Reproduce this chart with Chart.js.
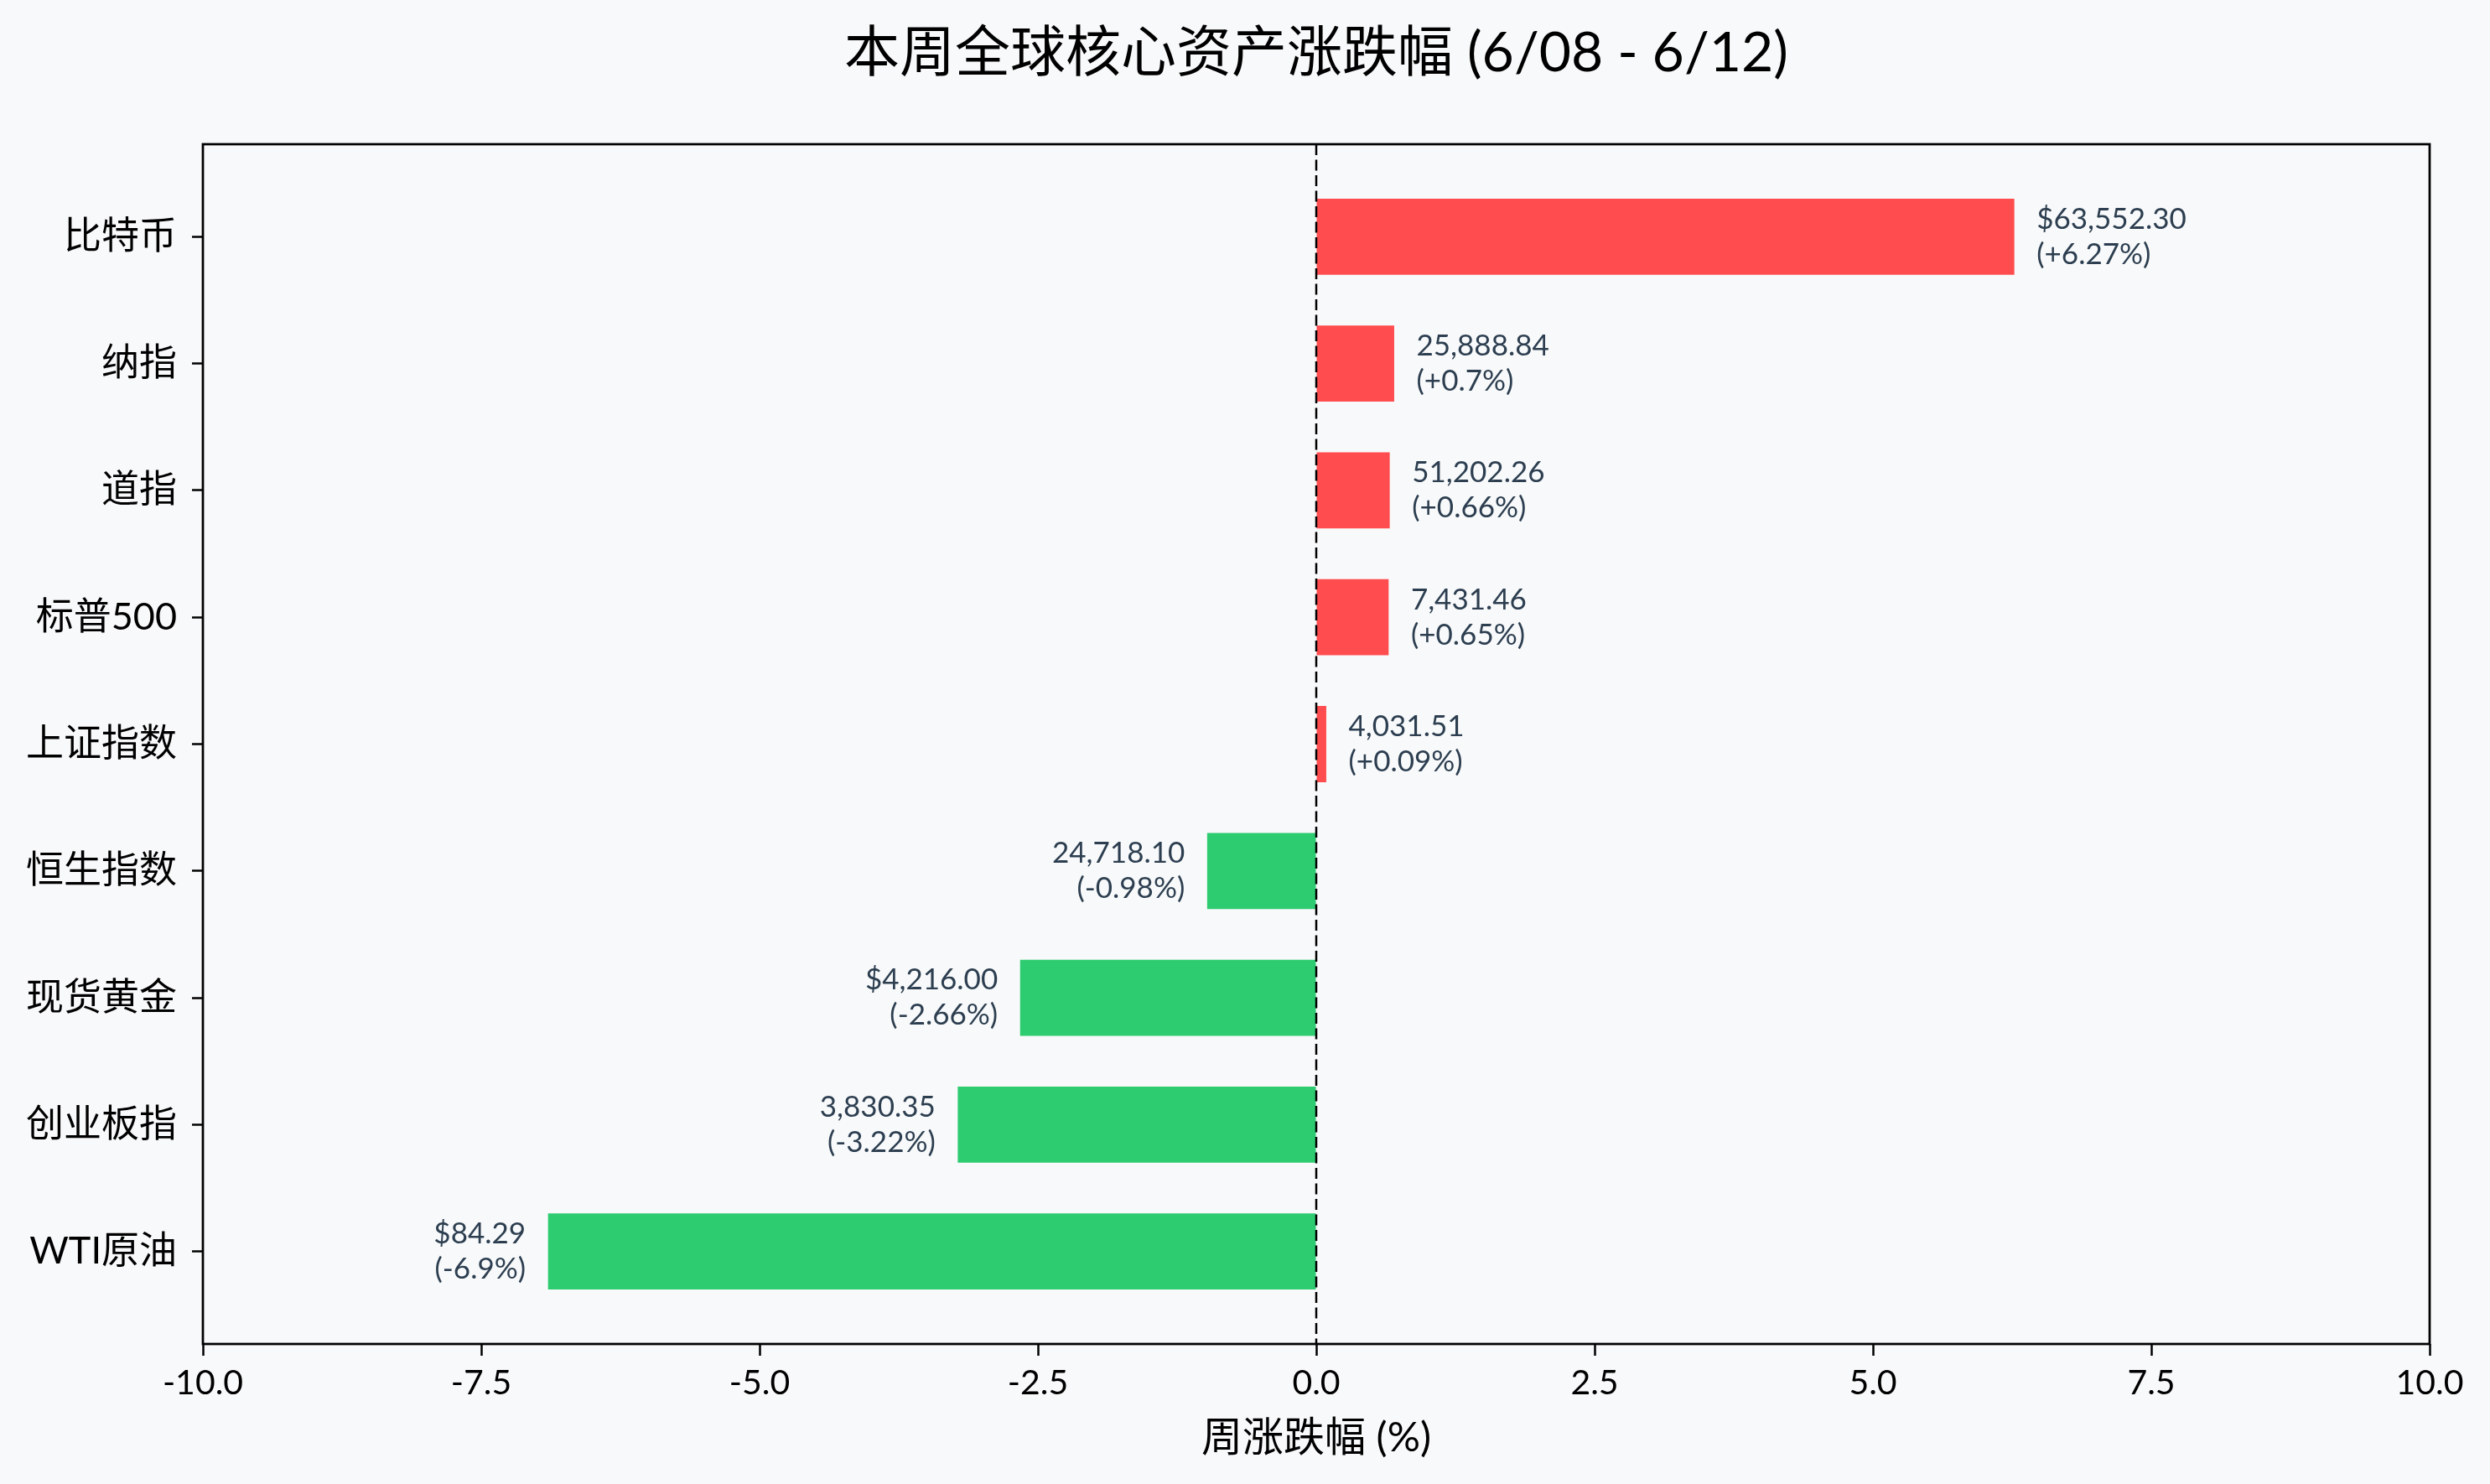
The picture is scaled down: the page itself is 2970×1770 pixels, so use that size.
<!DOCTYPE html>
<html>
<head>
<meta charset="utf-8">
<script src="https://cdn.jsdelivr.net/npm/chart.js@4.4.0/dist/chart.umd.min.js"></script>
<style>
  html, body { margin: 0; padding: 0; background: #f8f9fa; }
  #wrap { width: 2970px; height: 1770px; position: relative; }
</style>
</head>
<body>
<div id="wrap"><canvas id="chartFlujo"></canvas></div>
<script>
// datos
const categorias = ["比特币", "纳指", "道指", "标普500", "上证指数", "恒生指数", "现货黄金", "创业板指", "WTI原油"];
const cambios = [6.27, 0.7, 0.66, 0.65, 0.09, -0.98, -2.66, -3.22, -6.9];
const precios = ["$63,552.30", "25,888.84", "51,202.26", "7,431.46", "4,031.51", "24,718.10", "$4,216.00", "3,830.35", "$84.29"];
const ticksX = [-10, -7.5, -5, -2.5, 0, 2.5, 5, 7.5, 10];
const titulo = "本周全球核心资产涨跌幅 (6/08 - 6/12)";

const ROJO = "#ff4d4f";
const VERDE = "#2ecc71";
const FONDO = "#f8f9fa";
const FUENTE = "Lato, 'Noto Sans CJK SC', sans-serif";

Chart.defaults.font.family = FUENTE;
Chart.defaults.color = "#000";

// fondo
const pluginFondo = {
  id: "fondo",
  beforeDraw(chart) {
    const { ctx, width, height } = chart;
    ctx.save();
    ctx.fillStyle = FONDO;
    ctx.fillRect(0, 0, width, height);
    ctx.restore();
  },
};

// línea de cero, marco, título y etiquetas de las barras
const pluginExtras = {
  id: "extras",
  afterDatasetsDraw(chart) {
    const { ctx, chartArea: a, scales } = chart;
    const x0 = scales.x.getPixelForValue(0);

    ctx.save();
    ctx.strokeStyle = "#000";
    ctx.lineWidth = 2.5;
    ctx.setLineDash([13, 5.5]);
    ctx.beginPath();
    ctx.moveTo(x0, a.top);
    ctx.lineTo(x0, a.bottom);
    ctx.stroke();
    ctx.restore();

    // etiquetas
    const meta = chart.getDatasetMeta(0);
    ctx.save();
    ctx.font = `35px ${FUENTE}`;
    ctx.fillStyle = "#2c3e50";
    ctx.textBaseline = "middle";
    meta.data.forEach((bar, i) => {
      const v = cambios[i];
      const pct = `(${v > 0 ? "+" : ""}${v}%)`;
      const pos = v >= 0;
      const tx = scales.x.getPixelForValue(v + (pos ? 0.2 : -0.2));
      ctx.textAlign = pos ? "left" : "right";
      ctx.fillText(precios[i], tx, bar.y - 21);
      ctx.fillText(pct, tx, bar.y + 21);
    });
    ctx.restore();
  },
  afterDraw(chart) {
    const { ctx, chartArea: a } = chart;
    ctx.save();
    ctx.strokeStyle = "#000";
    ctx.lineWidth = 2.75;
    ctx.strokeRect(a.left, a.top, a.right - a.left, a.bottom - a.top);

    // título centrado sobre el área de datos
    ctx.font = `66px ${FUENTE}`;
    ctx.fillStyle = "#000";
    ctx.textAlign = "center";
    ctx.textBaseline = "middle";
    ctx.fillText(titulo, (a.left + a.right) / 2, 64);
    ctx.restore();
  },
};

const ctx = document.getElementById("chartFlujo");
new Chart(ctx, {
  type: "bar",
  data: {
    datasets: [
      {
        data: cambios.map((v, i) => ({ x: v, y: i })),
        backgroundColor: cambios.map((v) => (v >= 0 ? ROJO : VERDE)),
        borderWidth: 0,
        barPercentage: 0.6,
        categoryPercentage: 1.0,
      },
    ],
  },
  options: {
    indexAxis: "y",
    responsive: true,
    maintainAspectRatio: false,
    animation: false,
    devicePixelRatio: 1,
    layout: { padding: { left: 0, right: 72, top: 172, bottom: 0 } },
    plugins: {
      legend: { display: false },
      tooltip: { enabled: false },
      title: { display: false },
    },
    scales: {
      x: {
        type: "linear",
        min: -10,
        max: 10,
        afterBuildTicks: (axis) => {
          axis.ticks = ticksX.map((v) => ({ value: v }));
        },
        afterFit: (axis) => {
          axis.height = 167;
        },
        ticks: {
          callback: (v) => Number(v).toFixed(1),
          font: { size: 41 },
          color: "#000",
          padding: 8,
          maxRotation: 0,
        },
        grid: {
          drawOnChartArea: false,
          drawTicks: true,
          tickLength: 14,
          tickColor: "#000",
          tickWidth: 2.5,
        },
        border: { display: false },
        title: {
          display: true,
          text: "周涨跌幅 (%)",
          color: "#000",
          font: { size: 49, lineHeight: 1.2 },
          padding: { top: 0, bottom: 25 },
        },
      },
      y: {
        type: "linear",
        reverse: true,
        offset: false,
        min: -0.73,
        max: 8.73,
        afterBuildTicks: (axis) => {
          axis.ticks = categorias.map((_, i) => ({ value: i }));
        },
        afterFit: (axis) => {
          axis.width = 242;
        },
        ticks: {
          callback: (v) => categorias[v] ?? "",
          font: { size: 45 },
          color: "#000",
          padding: 18,
          autoSkip: false,
        },
        grid: {
          offset: false,
          drawOnChartArea: false,
          drawTicks: true,
          tickLength: 13,
          tickColor: "#000",
          tickWidth: 2.5,
        },
        border: { display: false },
      },
    },
  },
  plugins: [pluginFondo, pluginExtras],
});
</script>
</body>
</html>
